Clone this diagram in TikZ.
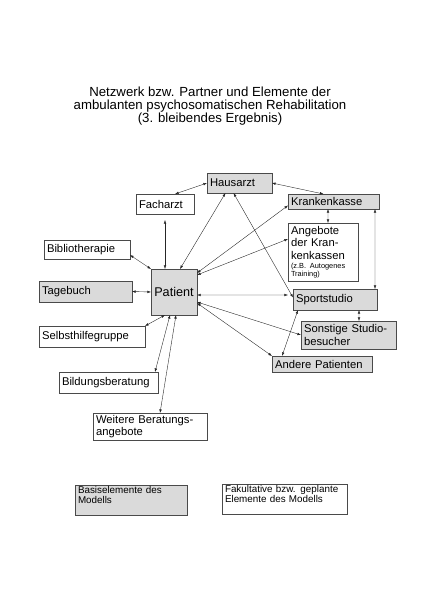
\documentclass[tikz,border=0pt]{standalone}
\usepackage{fontspec}
\setmainfont{Liberation Sans}
\usetikzlibrary{arrows.meta}
\definecolor{basisgray}{HTML}{DADADA}
\definecolor{framedark}{HTML}{4A4A4A}
\definecolor{linkdark}{HTML}{262626}

\begin{document}
\begin{tikzpicture}[x=0.5mm, y=-0.5mm,
    box/.style 2 args={draw=framedark, line width=0.6pt, anchor=north west, outer sep=0pt,
        inner xsep=1.5mm, inner ysep=0pt, align=left, text width=#1, minimum height=#2,
        font=\fontsize{16}{17.5}\selectfont},
    basis/.style={fill=basisgray},
    legend/.style={font=\fontsize{14}{14}\selectfont, minimum height=0pt, inner ysep=0.8mm, text depth=9.8mm},
    link/.style={{Latex[length=1.8mm,width=1.3mm]}-{Latex[length=1.8mm,width=1.3mm]}, linkdark, line width=0.55pt}]

    \useasboundingbox (0,0) rectangle (421,597);

    % Title
    \node[font=\fontsize{18.8}{18.4}\selectfont, align=center, anchor=north, inner sep=0pt] (title) at (210,86.5)
        {Netzwerk bzw. Partner und Elemente der\\ambulanten psychosomatischen Rehabilitation\\(3. bleibendes Ergebnis)};

    % Partners top and right
    \node[box={29.5mm}{10mm}, basis] (hausarzt) at (207,173) {Hausarzt};
    \node[box={26mm}{10mm}] (facharzt) at (136,194) {Facharzt};
    \node[box={42.5mm}{7.5mm}, basis] (krankenkasse) at (288,194) {Krankenkasse};
    \node[box={32mm}{29mm}] (angebote) at (288,223) {Angebote\\der Kran-\\kenkassen\\[-4pt]{\fontsize{10.5}{10}\selectfont(z.B. Autogenes}\\[-6.5pt]{\fontsize{10.5}{10}\selectfont Training)}};
    \node[box={39mm}{10.5mm}, basis] (sport) at (293,289) {Sportstudio};
    \node[box={44.5mm}{14mm}, basis] (sonstige) at (301,321) {Sonstige Studio-\\besucher};
    \node[box={47mm}{8mm}, basis] (andere) at (272,356) {Andere Patienten};

    % Patient and left side
    \node[box={20mm}{23mm}, basis, align=center, font=\fontsize{18}{20}\selectfont] (patient) at (151,269) {Patient};
    \node[box={40mm}{9.5mm}] (biblio) at (44,240) {Bibliotherapie};
    \node[box={43.5mm}{10.5mm}, basis] (tagebuch) at (39,281) {Tagebuch};
    \node[box={50mm}{10.5mm}] (selbst) at (39,326) {Selbsthilfegruppe};
    \node[box={46.5mm}{10.5mm}] (bildung) at (59,372) {Bildungsberatung};
    \node[box={54mm}{13.5mm}] (weitere) at (93,413) {Weitere Beratungs-\\angebote};

    % Legend
    \node[box={53mm}{0pt}, basis, legend] (legbasis) at (75,485) {Basiselemente des\\Modells};
    \node[box={59.5mm}{0pt}, legend] (legfakult) at (222,484) {Fakultative bzw. geplante\\Elemente des Modells};

    % Connections
    \draw[link] (hausarzt.west) -- ([xshift=5mm]facharzt.north);
    \draw[link] (hausarzt.east) -- ([xshift=-5mm]krankenkasse.north);
    \draw[link, shorten <=3mm] (facharzt.south) -- (facharzt.south |- patient.north);
    \draw[link] ([xshift=3mm]patient.north) -- ([xshift=-7mm]hausarzt.south);
    \draw[link] ([xshift=-3mm]hausarzt.south) -- ([yshift=1mm]sport.west);
    \draw[link] ([yshift=-2mm]patient.north east) -- ([yshift=-2mm]krankenkasse.west);
    \draw[link] ([yshift=-3mm]patient.north east) -- ([yshift=6.5mm]angebote.west);
    \draw[link] ([xshift=-2.75mm]krankenkasse.south) -- ([xshift=2.5mm]angebote.north);
    \draw[link] ([xshift=-2mm]krankenkasse.south east) -- ([xshift=-1mm]sport.north east);
    \draw[link] ([yshift=-2.75mm]biblio.east) -- (patient.north west);
    \draw[link] (tagebuch.east) -- (patient.west);
    \draw[link] ([yshift=-1.5mm]patient.east) -- ([xshift=-2.5mm,yshift=2.25mm]sport.west);
    \draw[link] ([yshift=-5mm]patient.east) -- (sonstige.west);
    \draw[link] ([yshift=-5.5mm]patient.east) -- (andere.north west);
    \draw[link] ([xshift=-4.5mm]patient.south) -- (selbst.north east);
    \draw[link] ([xshift=-2mm]patient.south) -- ([xshift=-1.5mm]bildung.north east);
    \draw[link] ([xshift=1mm]patient.south) -- ([xshift=5mm]weitere.north);
    \draw[link] ([xshift=12mm]sport.south) -- ([xshift=5.25mm]sonstige.north);
    \draw[link] ([xshift=2.5mm]sport.south west) -- ([xshift=5mm]andere.north west);
\end{tikzpicture}
\end{document}
